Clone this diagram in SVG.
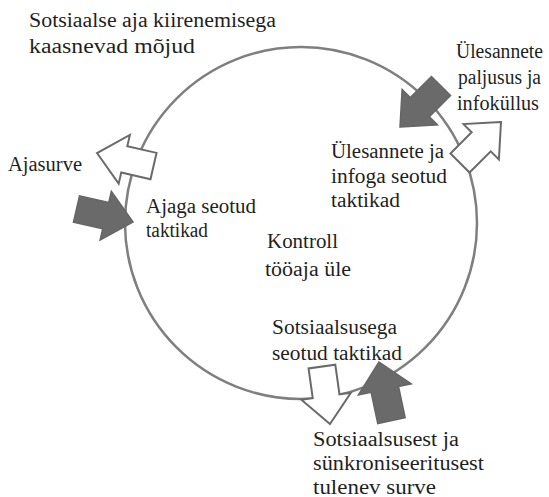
<svg xmlns="http://www.w3.org/2000/svg" width="549" height="497" viewBox="0 0 549 497">
<style>
.t text{font-family:'Liberation Serif','Times New Roman','Liberation Sans',serif;font-size:20px;fill:#1f1f1f}
.ring{fill:none;stroke:#7f7f7f;stroke-width:2.5}
.wa{fill:#fff;stroke:#6a6a6a;stroke-width:2;stroke-linejoin:miter}
.ga{fill:#6a6a6a;stroke:#666;stroke-width:1.5;stroke-linejoin:miter}
</style>
<defs>
<path id="arr" d="M0,0 L-28,-25 L-28,-13.5 L-58,-13.5 L-58,13.5 L-28,13.5 L-28,25 Z"/>
<path id="arr2" d="M0,0 L-28,-27 L-28,-14 L-60,-14 L-60,14 L-28,14 L-28,27 Z"/>
</defs>
<g id="ring"><circle class="ring" cx="301" cy="223" r="176"/></g>
<g id="connectors">
<use href="#arr" class="wa" transform="translate(97,153) rotate(193)"/>
<use href="#arr" class="ga" transform="translate(133,222) rotate(13)"/>
<use href="#arr" class="ga" transform="translate(400,127) rotate(135)"/>
<use href="#arr" class="wa" transform="translate(501,122) rotate(-45)"/>
<use href="#arr" class="wa" transform="translate(330,424) rotate(82)"/>
<use href="#arr2" class="ga" transform="translate(379,362) rotate(-102)"/>
</g>
<g class="t">
<g id="title"><text x="29" y="27" textLength="247" lengthAdjust="spacingAndGlyphs">Sotsiaalse aja kiirenemisega</text><text x="29" y="53" textLength="166" lengthAdjust="spacingAndGlyphs">kaasnevad mõjud</text></g>
<g id="task-pressure"><text x="456" y="58" textLength="87" lengthAdjust="spacingAndGlyphs">Ülesannete</text><text x="458" y="84" textLength="83" lengthAdjust="spacingAndGlyphs">paljusus ja</text><text x="457" y="110" textLength="82" lengthAdjust="spacingAndGlyphs">infoküllus</text></g>
<g id="task-tactics"><text x="331" y="158" textLength="113" lengthAdjust="spacingAndGlyphs">Ülesannete ja</text><text x="331" y="183" textLength="116" lengthAdjust="spacingAndGlyphs">infoga seotud</text><text x="331" y="207" textLength="69" lengthAdjust="spacingAndGlyphs">taktikad</text></g>
<g id="time-pressure"><text x="8" y="171" textLength="74" lengthAdjust="spacingAndGlyphs">Ajasurve</text></g>
<g id="time-tactics"><text x="146" y="213" textLength="110" lengthAdjust="spacingAndGlyphs">Ajaga seotud</text><text x="146" y="237" textLength="62" lengthAdjust="spacingAndGlyphs">taktikad</text></g>
<g id="center"><text x="267" y="248" textLength="71" lengthAdjust="spacingAndGlyphs">Kontroll</text><text x="265" y="276" textLength="86" lengthAdjust="spacingAndGlyphs">tööaja üle</text></g>
<g id="social-tactics"><text x="272" y="334" textLength="125" lengthAdjust="spacingAndGlyphs">Sotsiaalsusega</text><text x="272" y="360" textLength="130" lengthAdjust="spacingAndGlyphs">seotud taktikad</text></g>
<g id="social-pressure"><text x="313" y="446" textLength="146" lengthAdjust="spacingAndGlyphs">Sotsiaalsusest ja</text><text x="313" y="470" textLength="171" lengthAdjust="spacingAndGlyphs">sünkroniseeritusest</text><text x="313" y="494" textLength="123" lengthAdjust="spacingAndGlyphs">tulenev surve</text></g>
</g>
</svg>
